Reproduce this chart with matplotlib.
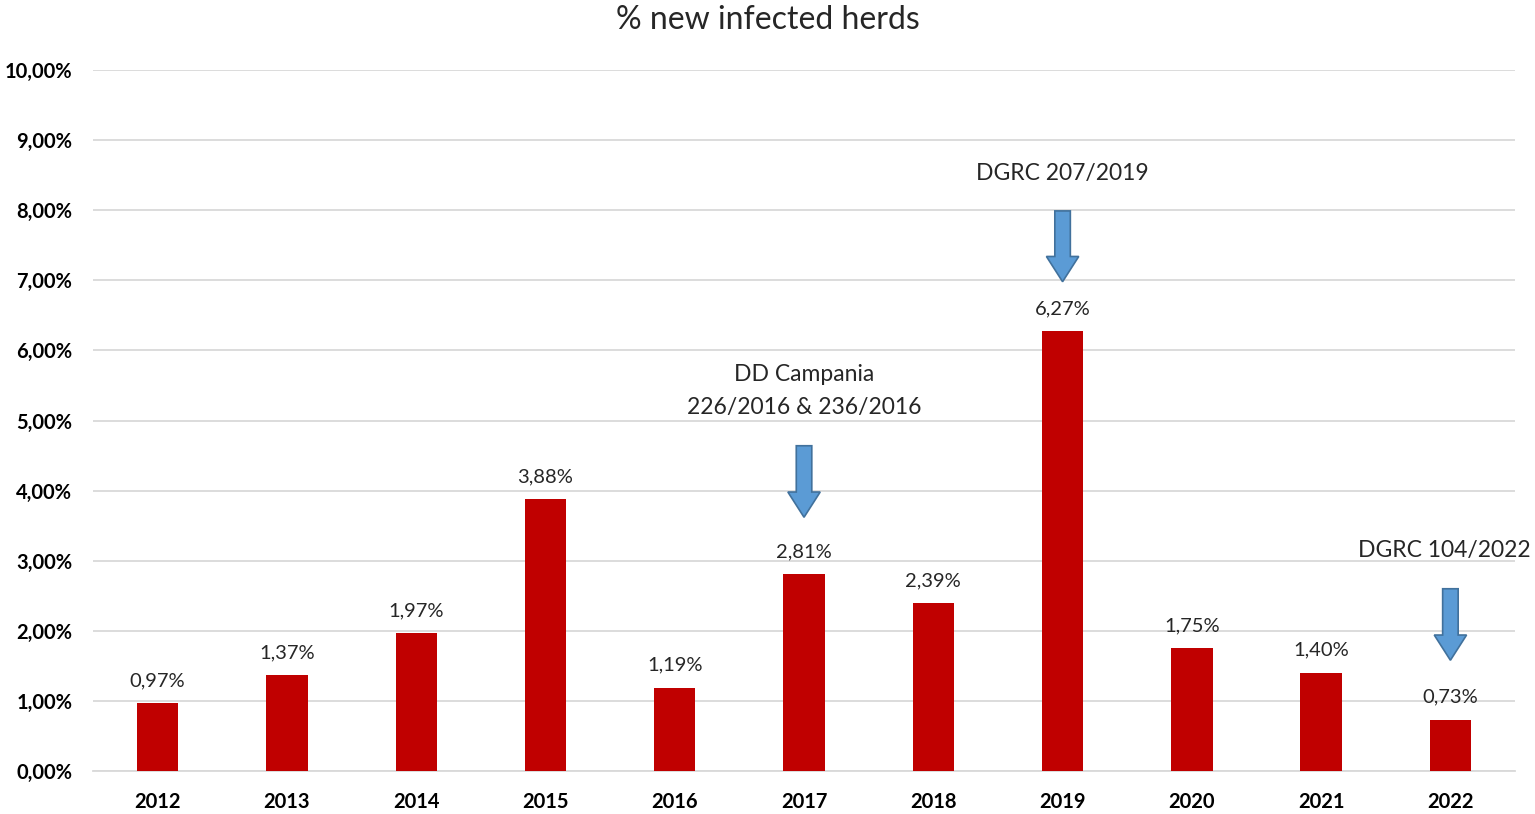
import numpy as np
import matplotlib.pyplot as plt
from matplotlib.ticker import FuncFormatter

years = ['2012', '2013', '2014', '2015', '2016', '2017', '2018', '2019', '2020', '2021', '2022']
pct = [0.97, 1.37, 1.97, 3.88, 1.19, 2.81, 2.39, 6.27, 1.75, 1.40, 0.73]

# decrees marked with arrows: (bar index, label, arrow top, arrow bottom, text y)
decrees = [
    (5, 'DD Campania\n226/2016 & 236/2016', 4.64, 3.62, 5.42),
    (7, 'DGRC 207/2019', 7.99, 6.98, 8.52),
    (10, 'DGRC 104/2022', 2.60, 1.58, 3.14),
]

plt.rcParams['font.family'] = ['Lato', 'DejaVu Sans']

fig = plt.figure(figsize=(15.35, 8.14), dpi=100)
ax = fig.add_axes([0.0606, 0.0528, 0.9264, 0.8612])

x = np.arange(len(years))
ax.bar(x, pct, width=0.32, color='#C00000', zorder=3)

for xi, v in zip(x, pct):
    ax.text(xi, v + 0.2, f'{v:.2f}%'.replace('.', ','), ha='center', va='bottom',
            fontsize=14.5, color='#262626')

for idx, label, top, bottom, ty in decrees:
    ax.arrow(idx, top, 0, bottom - top, width=0.12, head_width=0.25, head_length=0.36,
             length_includes_head=True, facecolor='#5B9BD5', edgecolor='#41719C',
             linewidth=1.2, zorder=4)
    tx = idx - 0.05 if idx == 10 else idx
    ax.text(tx, ty, label, ha='center', va='center', fontsize=16.5, color='#262626',
            linespacing=1.7)

ax.set_xlim(-0.5, 10.5)
ax.set_ylim(0, 10)
ax.set_yticks(np.arange(0, 11, 1))
ax.yaxis.set_major_formatter(FuncFormatter(lambda v, p: f'{v:.2f}%'.replace('.', ',')))
ax.set_xticks(x)
ax.set_xticklabels(years)
ax.tick_params(axis='both', length=0, labelsize=14.5)
ax.tick_params(axis='y', pad=15)
ax.tick_params(axis='x', pad=15)
for lab in ax.get_xticklabels() + ax.get_yticklabels():
    lab.set_fontweight('bold')

ax.grid(axis='y', color='#D9D9D9', linewidth=1.3, zorder=0)
for s in ['top', 'right', 'left']:
    ax.spines[s].set_visible(False)
ax.spines['bottom'].set_color('#D9D9D9')
ax.spines['bottom'].set_linewidth(1.3)

fig.text(0.5, 0.976, '% new infected herds', ha='center', va='center', fontsize=23, color='#262626')

fig.savefig('out.png', dpi=100)
